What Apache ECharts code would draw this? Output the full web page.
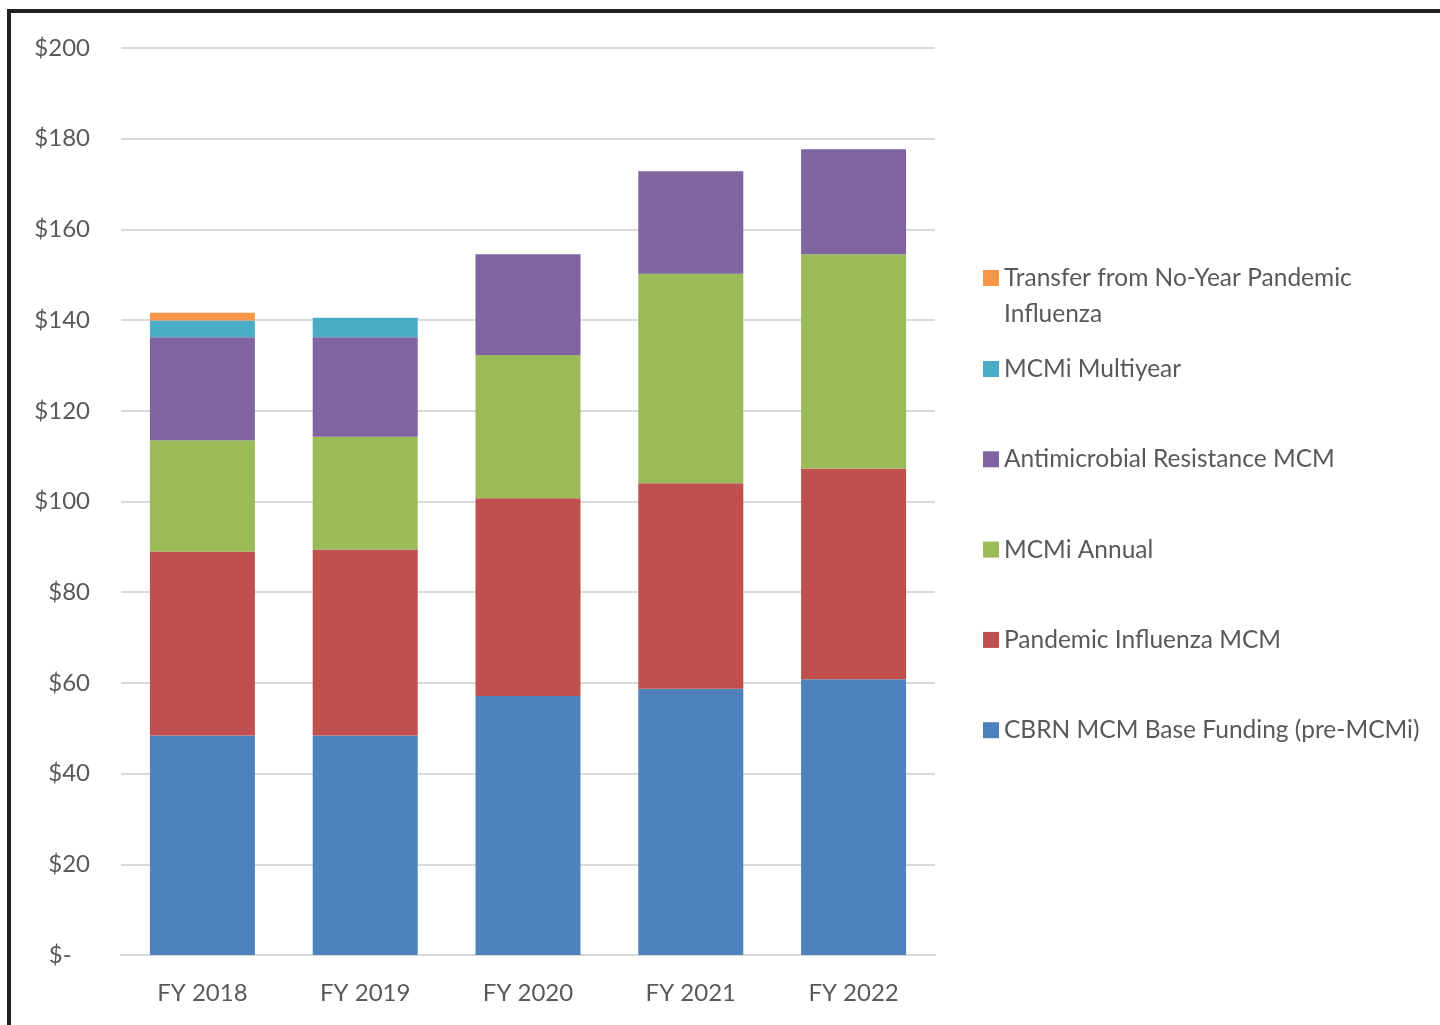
<!DOCTYPE html>
<html>
<head>
<meta charset="utf-8">
<style>
  html, body { margin: 0; padding: 0; background: #fff; }
  #chart { position: absolute; left: 0; top: 0; width: 1440px; height: 1025px; }
  #frame { position: absolute; left: 7px; top: 9px; width: 1440px; height: 1030px;
           border-top: 4px solid #231f20; border-left: 4px solid #231f20; pointer-events: none; }
</style>
<script src="https://cdn.jsdelivr.net/npm/echarts@6/dist/echarts.min.js"></script>
</head>
<body>
<div id="chart"></div>
<div id="frame"></div>
<script>
const categories = ['FY 2018', 'FY 2019', 'FY 2020', 'FY 2021', 'FY 2022'];
const cbrnBase = [48.4, 48.4, 57.1, 58.7, 60.8];
const pandemicFlu = [40.6, 41.0, 43.6, 45.3, 46.5];
const mcmiAnnual = [24.5, 24.9, 31.6, 46.2, 47.2];
const antimicrobial = [22.7, 21.9, 22.2, 22.6, 23.2];
const mcmiMultiyear = [3.7, 4.3, 0, 0, 0];
const transferNoYear = [1.7, 0, 0, 0, 0];
const yTicks = [0, 20, 40, 60, 80, 100, 120, 140, 160, 180, 200];

const names = {
  base: 'CBRN MCM Base Funding (pre-MCMi)',
  flu: 'Pandemic Influenza MCM',
  annual: 'MCMi Annual',
  amr: 'Antimicrobial Resistance MCM',
  multi: 'MCMi Multiyear',
  transfer: 'Transfer from No-Year Pandemic Influenza'
};
const colors = {
  base: '#4F81BD', flu: '#C0504D', annual: '#9BBB59',
  amr: '#8064A2', multi: '#4BACC6', transfer: '#F79646'
};
const FONT = 'Lato';
const TXT = '#595959';

function bar(key, data) {
  return {
    name: names[key], type: 'bar', stack: 'total', data: data,
    barWidth: '64.5%',
    itemStyle: { color: colors[key] },
    emphasis: { disabled: true }
  };
}

const chart = echarts.init(document.getElementById('chart'));
chart.setOption({
  animation: false,
  backgroundColor: 'transparent',
  grid: { left: 121, width: 814, top: 48, bottom: 70, containLabel: false },
  xAxis: {
    type: 'category', data: categories,
    axisLine: { show: true, lineStyle: { color: '#d9d9d9', width: 2 } },
    axisTick: { show: false },
    axisLabel: { color: TXT, fontFamily: FONT, fontSize: 24, margin: 26 }
  },
  yAxis: {
    type: 'value', min: 0, max: 200, interval: 20,
    axisLine: { show: false }, axisTick: { show: false },
    splitLine: { lineStyle: { color: '#d9d9d9', width: 2 } },
    axisLabel: {
      color: TXT, fontFamily: FONT, fontSize: 24, margin: 31,
      formatter: function (v) { return yTicks.indexOf(v) === 0 ? '$-   ' : '$' + v; }
    }
  },
  legend: [
    {
      orient: 'vertical', left: 983, top: 224, padding: 0,
      itemWidth: 16, itemHeight: 16, itemGap: 0, icon: 'rect',
      selectedMode: false,
      data: [names.transfer],
      formatter: function () { return ' \nTransfer from No-Year Pandemic\nInfluenza'; },
      textStyle: { color: TXT, fontFamily: FONT, fontSize: 24.5, lineHeight: 36 }
    },
    {
      orient: 'vertical', left: 983, top: 354, padding: 0,
      itemWidth: 16, itemHeight: 16, itemGap: 60.3, icon: 'rect',
      selectedMode: false,
      data: [names.multi, names.amr, names.annual, names.flu, names.base],
      textStyle: { color: TXT, fontFamily: FONT, fontSize: 24.5, lineHeight: 30 }
    }
  ],
  series: [
    bar('base', cbrnBase),
    bar('flu', pandemicFlu),
    bar('annual', mcmiAnnual),
    bar('amr', antimicrobial),
    bar('multi', mcmiMultiyear),
    bar('transfer', transferNoYear)
  ]
});
</script>
</body>
</html>
